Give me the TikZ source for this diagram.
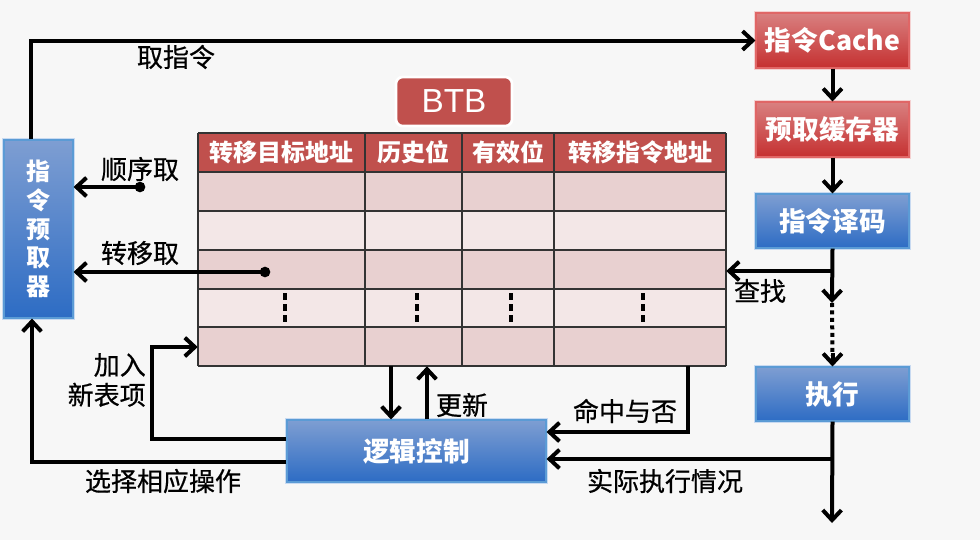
\documentclass[tikz,border=0pt]{standalone}
\usepackage{fontspec}
\setmainfont{Noto Sans CJK SC}
\newfontfamily\lblfont[FakeBold=0.6]{Noto Sans CJK SC}
\newfontfamily\latinfont{Liberation Sans}
\usetikzlibrary{arrows.meta}
\definecolor{bg}{HTML}{F7F7F7}
\definecolor{thead}{HTML}{C0504D}
\definecolor{rowA}{HTML}{E8D0D0}
\definecolor{rowB}{HTML}{F3E7E7}
\definecolor{bluetop}{HTML}{7E9ED2}
\definecolor{bluemid}{HTML}{2F5A9A}
\definecolor{bluebot}{HTML}{2D6CC4}
\definecolor{blueedge}{HTML}{5B9BD5}
\definecolor{blueglow}{HTML}{A9C8EE}
\definecolor{redtop}{HTML}{D98080}
\definecolor{redmid}{HTML}{A82A2A}
\definecolor{redbot}{HTML}{C53030}
\definecolor{rededge}{HTML}{E06666}
\definecolor{redglow}{HTML}{F2B8B8}
\begin{document}
\begin{tikzpicture}[x=0.75pt,y=-0.75pt,
  lbl/.style={font=\lblfont\fontsize{19.5}{22}\selectfont, text=black, inner sep=0pt},
  bluebox/.style={rectangle, top color=bluetop, middle color=bluemid, bottom color=bluebot,
    draw=blueedge, line width=0.8pt, preaction={draw=blueglow, line width=3.5pt, opacity=0.6},
    text=white, font=\fontsize{20}{24}\selectfont\bfseries, inner sep=0pt},
  redbox/.style={rectangle, top color=redtop, middle color=redmid, bottom color=redbot,
    draw=rededge, line width=0.8pt, preaction={draw=redglow, line width=3.5pt, opacity=0.6},
    text=white, font=\fontsize{20}{24}\selectfont\bfseries, inner sep=0pt,
    minimum width=114.75pt, minimum height=41.25pt},
  arr/.style={draw=black, line width=3pt, line join=miter, -{Straight Barb[length=7.5pt,width=14pt]}},
  tline/.style={draw=black!80, line width=0.9pt},
  hdr/.style={text=white, font=\fontsize{18}{21}\selectfont\bfseries, inner sep=0pt},
  vdash/.style={draw=black, line width=3pt, dash pattern=on 5.25pt off 3pt}
]
\fill[bg] (0,0) rectangle (980,540);
\useasboundingbox (0,0) rectangle (980,540);

% ---------- boxes ----------
\node[bluebox, minimum width=51.75pt, minimum height=133.5pt, align=center,
  font=\fontsize{18}{21.5}\selectfont\bfseries] (pre) at (38.5,229) {指\\令\\预\\取\\器};
\node[redbox] (cache) at (832.5,40.5) {指令Cache};
\node[redbox] (buf) at (832.5,129.5) {预取缓存器};
\node[bluebox, minimum width=114.75pt, minimum height=40.5pt] (dec) at (832.5,221) {指令译码};
\node[bluebox, minimum width=114.75pt, minimum height=40.5pt] (exe) at (832.5,394) {执行};
\node[bluebox, minimum width=194.25pt, minimum height=46.5pt] (logic) at (416.5,451) {逻辑控制};

% ---------- BTB label ----------
\node[rectangle, rounded corners=5pt, fill=thead, draw=white, line width=2pt,
  minimum width=87pt, minimum height=36.75pt, text=white,
  font=\latinfont\fontsize{25}{28}\selectfont] (btb) at (454,101.5) {BTB};

% ---------- table ----------
\node[rectangle, inner sep=0pt, minimum width=396pt, minimum height=174.75pt] (tbl) at (462,249.5) {};
\fill[thead] (198,133) rectangle (726,172);
\fill[rowA] (198,172) rectangle (726,211);
\fill[rowB] (198,211) rectangle (726,250);
\fill[rowA] (198,250) rectangle (726,289);
\fill[rowB] (198,289) rectangle (726,327);
\fill[rowA] (198,327) rectangle (726,366);
\foreach \yy in {133,172,211,250,289,327,366} \draw[tline] (198,\yy) -- (726,\yy);
\foreach \xx in {198,365,462,554,726} \draw[tline] (\xx,133) -- (\xx,366);
\node[hdr] (h1) at (281.5,152.5) {转移目标地址};
\node[hdr] (h2) at (413.5,152.5) {历史位};
\node[hdr] (h3) at (508,152.5) {有效位};
\node[hdr] (h4) at (640,152.5) {转移指令地址};
\foreach \xx in {285,417,511,643} \draw[vdash] (\xx,293) -- (\xx,322);

% ---------- connectors ----------
\draw[arr] ([xshift=-5.6pt]pre.north) |- (cache.west);
\node[lbl] (l1) at (176,57) {取指令};
\draw[arr] (cache.south) -- (buf.north);
\draw[arr] (buf.south) -- (dec.north);

\coordinate (d1) at (140,187);
\draw[arr] (d1) -- (pre.east |- d1);
\fill (d1) circle (4pt);
\node[lbl] (l2) at (140,169) {顺序取};

\coordinate (d2) at (265,272);
\draw[arr] (d2) -- (pre.east |- d2);
\fill (d2) circle (4pt);
\node[lbl] (l3) at (140,253) {转移取};

\coordinate (sp) at (832,303);
\coordinate (lk) at (832,271);
\draw[arr] (dec.south) -- (sp);
\draw[draw=black, line width=3pt, dash pattern=on 3pt off 2.6pt] (sp) -- ([yshift=8pt]exe.north);
\draw[arr] ([yshift=10pt]exe.north) -- (exe.north);
\draw[arr] (lk) -- (tbl.east |- lk);
\node[lbl] (l4) at (760,291) {查找};

\coordinate (out) at (832,523);
\draw[arr] (exe.south) -- (out);
\coordinate (fb) at (832,459);
\draw[arr] (fb) -- (logic.east |- fb);
\node[lbl] (l5) at (665,481) {实际执行情况};

\coordinate (hitA) at (688,366);
\coordinate (hitB) at (688,432);
\draw[arr] (hitA) -- (hitB) -- (logic.east |- hitB);
\node[lbl] (l6) at (625,411) {命中与否};

\draw[arr] (tbl.south -| 391,0) -- (logic.north -| 391,0);
\draw[arr] (logic.north -| 427,0) -- (tbl.south -| 427,0);
\node[lbl] (l7) at (462,405) {更新};

\coordinate (nA) at (152,439);
\coordinate (nB) at (152,347);
\draw[arr] (logic.west |- nA) -- (nA) -- (nB) -- (tbl.west |- nB);
\node[lbl, align=right, anchor=east, font=\lblfont\fontsize{19.5}{22.5}\selectfont] (l8) at (146,380) {加入\\新表项};

\coordinate (sA) at (32,462);
\draw[arr] (logic.west |- sA) -- (sA) -- (pre.south -| sA);
\node[lbl] (l9) at (163,481) {选择相应操作};
\end{tikzpicture}
\end{document}
